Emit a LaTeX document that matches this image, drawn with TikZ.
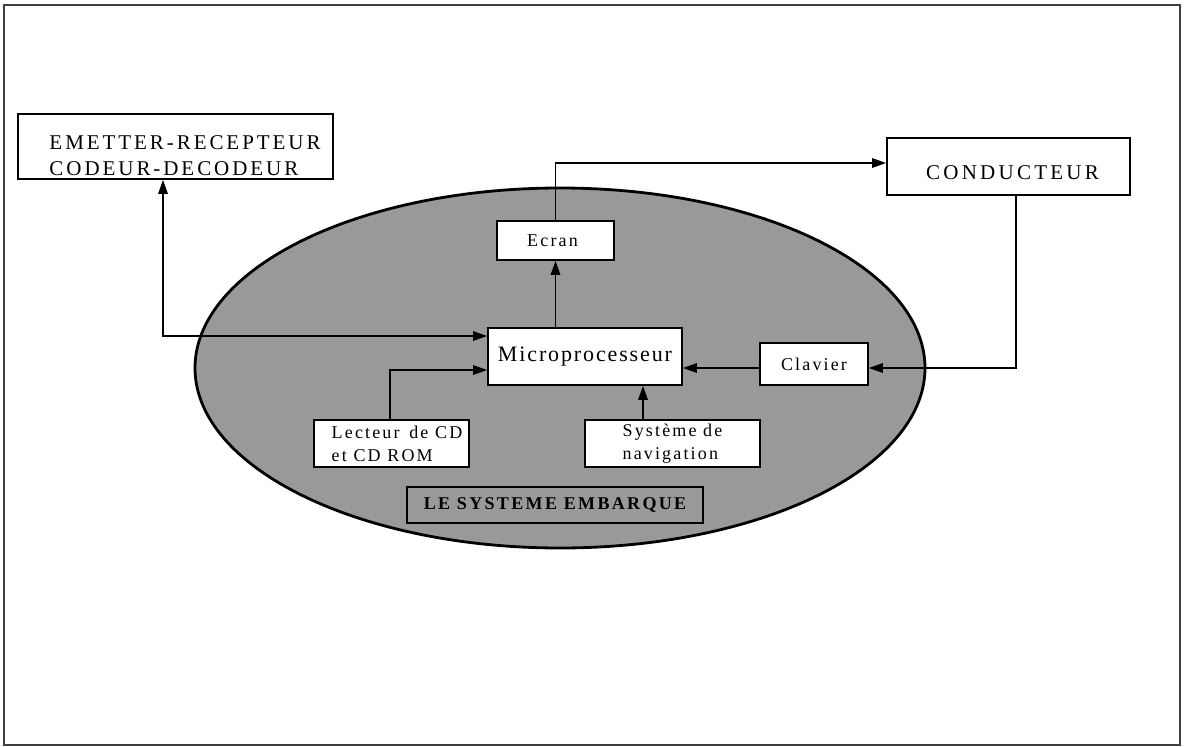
\documentclass[tikz,border=0pt]{standalone}
\usepackage{fontspec}
\setmainfont{Liberation Serif}
\usetikzlibrary{arrows.meta}
\begin{document}
\begin{tikzpicture}[x=1pt,y=-1pt,
  frame/.style={draw=black!75,line width=1.6pt},
  ell/.style={draw=black,line width=2.8pt,fill=black!40},
  box/.style={draw=black,line width=1.7pt,fill=white,inner sep=0pt},
  lbl/.style={draw=black,line width=1.7pt,inner sep=0pt},
  arr/.style={draw=black,line width=1.5pt,-{Triangle[length=14pt,width=9.5pt]}},
  darr/.style={draw=black,line width=1.5pt,{Triangle[length=14pt,width=9.5pt]}-{Triangle[length=14pt,width=9.5pt]}},
  emitf/.style={font=\fontsize{21}{26}\selectfont\addfontfeature{LetterSpace=14}},
  condf/.style={font=\fontsize{21}{24}\selectfont\addfontfeature{LetterSpace=15.5}},
  microf/.style={font=\fontsize{22}{24}\selectfont\addfontfeature{LetterSpace=8.5}},
  small/.style={font=\fontsize{18}{23}\selectfont\addfontfeature{LetterSpace=12}},
  sysf/.style={font=\fontsize{18}{22}\selectfont\bfseries\addfontfeature{LetterSpace=13}}]
\useasboundingbox (0,0) rectangle (1184,747);
\draw[frame] (4,5) rectangle (1180,745);
\draw[ell] (560,368) ellipse [x radius=365, y radius=180];

\node[box,emitf,minimum width=315pt,minimum height=65pt,align=left] (emit) at (175.5,146.5) {\rule{0pt}{32pt}\hspace*{19pt}EMETTER-RECEPTEUR\\\hspace*{19pt}CODEUR-DECODEUR};
\node[box,condf,minimum width=243pt,minimum height=57pt,text height=25pt,text depth=0pt] (cond) at (1008.5,166.5) {\hspace*{8pt}CONDUCTEUR};
\node[box,small,minimum width=117pt,minimum height=39pt] (ecran) at (555.5,240.5) {\hspace*{-6pt}Ecran};
\node[box,microf,minimum width=194pt,minimum height=57pt] (micro) at (585,356.5) {Microprocesseur};
\node[box,small,minimum width=108pt,minimum height=42pt] (clav) at (814,364) {Clavier};
\node[box,small,minimum width=155pt,minimum height=47pt,align=left] (lect) at (391.5,443.5) {\hspace*{11pt}Lecteur\, de CD\\\hspace*{11pt}et CD ROM};
\node[box,small,minimum width=175pt,minimum height=47pt,align=left] (nav) at (672.5,443.5) {Système de\\navigation};
\node[lbl,sysf,minimum width=296pt,minimum height=36pt] (sys) at (555,505) {LE SYSTEME EMBARQUE};

\draw[arr] (ecran.north) |- ([yshift=3.5pt]cond.west);
\draw[arr] (ecran.south |- micro.north) -- (ecran.south);
\draw[arr] ([xshift=7.5pt]cond.south) |- ([yshift=-4pt]clav.east);
\draw[arr] ([yshift=-4pt]clav.west) -- ([yshift=-4pt]clav.west -| micro.east);
\draw[arr] ([xshift=-29.5pt]nav.north) -- ([xshift=-29.5pt]nav.north |- micro.south);
\draw[arr] ([xshift=-1.5pt]lect.north) |- ([yshift=-13.5pt]micro.west);
\draw[darr] ([xshift=-12.5pt]emit.south) |- ([yshift=20.5pt]micro.west);
\end{tikzpicture}
\end{document}
